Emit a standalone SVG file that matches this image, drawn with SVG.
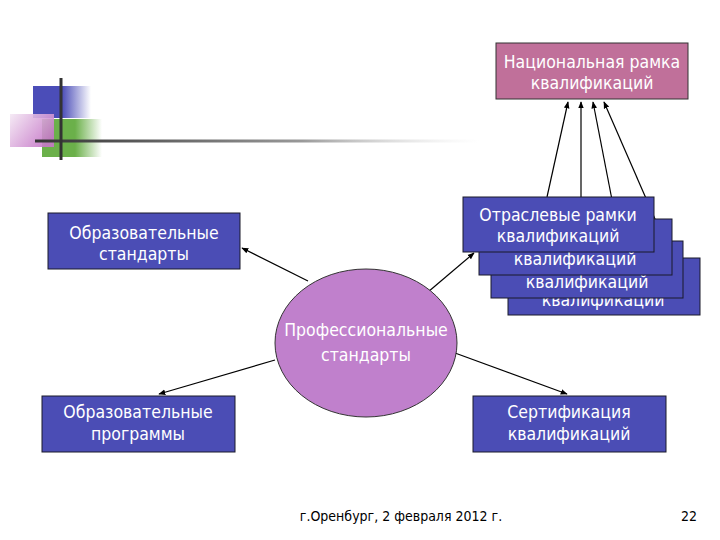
<svg xmlns="http://www.w3.org/2000/svg" width="720" height="540" viewBox="0 0 720 540">
<defs>
<linearGradient id="gBlue" x1="0" y1="0" x2="1" y2="0"><stop offset="0" stop-color="#4B4DB8"/><stop offset="0.5" stop-color="#4B4DB8"/><stop offset="1" stop-color="#4B4DB8" stop-opacity="0"/></linearGradient>
<linearGradient id="gGreen" x1="0" y1="0" x2="1" y2="0"><stop offset="0" stop-color="#6BB04A"/><stop offset="0.55" stop-color="#6BB04A"/><stop offset="1" stop-color="#6BB04A" stop-opacity="0"/></linearGradient>
<linearGradient id="gPink" x1="0" y1="0" x2="1" y2="0.6"><stop offset="0" stop-color="#F4E8F4"/><stop offset="1" stop-color="#C678C8"/></linearGradient>
<linearGradient id="gLine" gradientUnits="userSpaceOnUse" x1="35" y1="0" x2="480" y2="0"><stop offset="0" stop-color="#333333"/><stop offset="0.6" stop-color="#999999"/><stop offset="1" stop-color="#e0e0e0" stop-opacity="0"/></linearGradient>
<marker id="ah" viewBox="0 0 10 10" refX="9" refY="5" markerWidth="7" markerHeight="7" orient="auto" markerUnits="userSpaceOnUse"><path d="M0,1 L10,5 L0,9 z" fill="#000"/></marker>
<style>
.box{fill:#4B4DB5;stroke:#1a1a2a;stroke-width:1}
.nat{fill:#C0709A;stroke:#333;stroke-width:1}
.ell{fill:#C080CC;stroke:#333;stroke-width:1}
.t{font-family:"DejaVu Sans Condensed","DejaVu Sans",sans-serif;font-size:17.5px;fill:#fff;text-anchor:middle}
.f{font-family:"DejaVu Sans Condensed","DejaVu Sans",sans-serif;font-size:14px;fill:#000}
.c{stroke:#000;stroke-width:1.2;fill:none;marker-end:url(#ah)}
</style>
</defs>
<rect width="720" height="540" fill="#fff"/>
<g id="decor">
<rect x="33" y="86" width="58" height="32" fill="url(#gBlue)"/>
<rect x="42" y="119" width="60" height="38" fill="url(#gGreen)"/>
<rect x="10" y="114" width="44" height="33" fill="url(#gPink)" opacity="0.9"/>
<rect x="35" y="139.5" width="445" height="3" fill="url(#gLine)"/>
<line x1="61" y1="78" x2="61" y2="160" stroke="#333" stroke-width="3"/>
</g>
<g id="connectors">
<line class="c" x1="547" y1="197" x2="568" y2="102"/>
<line class="c" x1="581" y1="219" x2="581" y2="102"/>
<line class="c" x1="620" y1="241" x2="593" y2="102"/>
<line class="c" x1="672" y1="258" x2="604" y2="102"/>
<line class="c" x1="308" y1="281" x2="242" y2="248"/>
<line class="c" x1="428" y1="292" x2="474" y2="253"/>
<line class="c" x1="275" y1="360" x2="159" y2="394"/>
<line class="c" x1="455" y1="353" x2="567" y2="394"/>
</g>
<g id="nat">
<rect class="nat" x="496" y="43" width="192" height="56"/>
<text class="t" x="592" y="68">Национальная рамка</text>
<text class="t" x="592" y="89">квалификаций</text>
</g>
<g id="otr4">
<rect class="box" x="508" y="258" width="192" height="57"/>
<text class="t" x="603" y="306">квалификаций</text>
</g>
<g id="otr3">
<rect class="box" x="491" y="241" width="192" height="57"/>
<text class="t" x="587" y="288">квалификаций</text>
</g>
<g id="otr2">
<rect class="box" x="479" y="219" width="193" height="56"/>
<text class="t" x="575" y="265">квалификаций</text>
</g>
<g id="otr1">
<rect class="box" x="463" y="197" width="191" height="55"/>
<text class="t" x="558" y="221">Отраслевые рамки</text>
<text class="t" x="558" y="242">квалификаций</text>
</g>
<g id="obrstd">
<rect class="box" x="48" y="213" width="192" height="56"/>
<text class="t" x="144" y="239">Образовательные</text>
<text class="t" x="144" y="260">стандарты</text>
</g>
<g id="prof">
<ellipse class="ell" cx="366" cy="343" rx="91" ry="74"/>
<text class="t" x="366" y="336">Профессиональные</text>
<text class="t" x="366" y="361">стандарты</text>
</g>
<g id="obrprog">
<rect class="box" x="42" y="396" width="193" height="56"/>
<text class="t" x="138" y="418">Образовательные</text>
<text class="t" x="138" y="440">программы</text>
</g>
<g id="sert">
<rect class="box" x="473" y="396" width="193" height="56"/>
<text class="t" x="569" y="418">Сертификация</text>
<text class="t" x="569" y="440">квалификаций</text>
</g>
<g id="footer">
<text class="f" x="401" y="521" text-anchor="middle">г.Оренбург, 2 февраля 2012 г.</text>
<text class="f" x="697" y="521" text-anchor="end">22</text>
</g>
</svg>
